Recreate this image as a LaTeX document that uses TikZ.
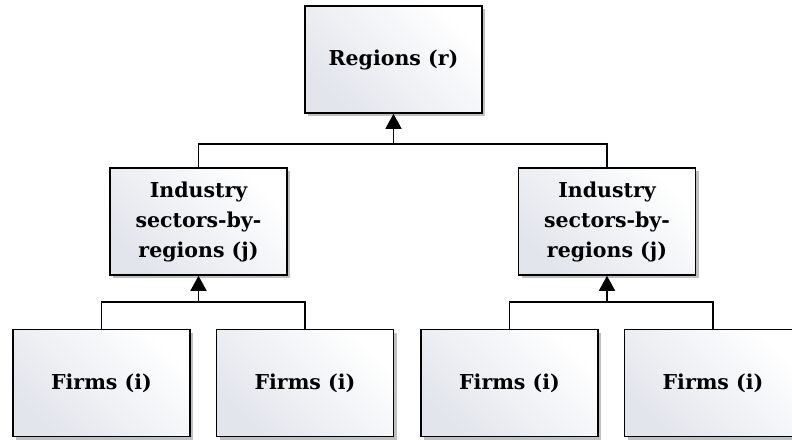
\documentclass[tikz,border=0pt]{standalone}
\usepackage{fontspec}
\setmainfont{DejaVu Serif}
\usetikzlibrary{arrows.meta,shadows}
\definecolor{boxtint}{RGB}{226,229,236}
\begin{document}
\begin{tikzpicture}[x=1pt,y=-1pt,
  box/.style={draw=black, line width=1.6pt, minimum width=177pt, minimum height=107pt,
    inner sep=0pt, left color=boxtint, right color=white, shading angle=135,
    drop shadow={shadow xshift=3pt, shadow yshift=-3pt, fill=black, opacity=0.25},
    font=\fontsize{20.5}{30}\selectfont\bfseries, align=center},
  link/.style={draw=black, line width=1.6pt},
  arr/.style={link, -{Triangle[width=16pt,length=15pt]}}]
\useasboundingbox (0,0) rectangle (792,439);
\clip (0,0) rectangle (792,439);
\node[box] (reg) at (393.5,59.5) {Regions (r)};
\node[box] (ml) at (198.5,221.5) {Industry\\sectors-by-\\regions (j)};
\node[box] (mr) at (607,221.5) {Industry\\sectors-by-\\regions (j)};
\node[box] (f1) at (101.5,383) {Firms (i)};
\node[box] (f2) at (305,383) {Firms (i)};
\node[box] (f3) at (509.5,383) {Firms (i)};
\node[box] (f4) at (713,383) {Firms (i)};
% top level
\coordinate (j0) at (reg.south |- 0,144);
\draw[link] (ml.north) |- (j0) -| (mr.north);
\draw[arr] (j0) -- (reg.south);
% left
\coordinate (j1) at (ml.south |- 0,302);
\draw[link] (f1.north) |- (j1) -| (f2.north);
\draw[arr] (j1) -- (ml.south);
% right
\coordinate (j2) at (mr.south |- 0,302);
\draw[link] (f3.north) |- (j2) -| (f4.north);
\draw[arr] (j2) -- (mr.south);
\end{tikzpicture}
\end{document}
